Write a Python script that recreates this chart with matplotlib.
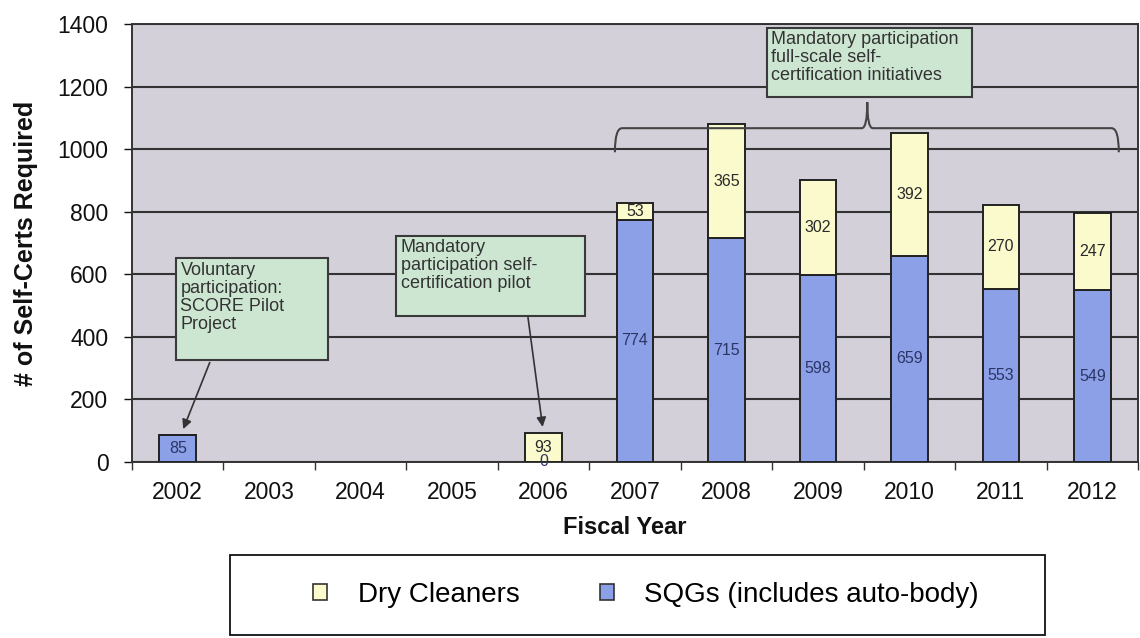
import numpy as np
import matplotlib
matplotlib.use("Agg")
import matplotlib.pyplot as plt
from matplotlib.patches import Rectangle, Patch, PathPatch
from matplotlib.path import Path

plt.rcParams['font.family'] = ['Liberation Sans', 'DejaVu Sans']

# ---------------------------------------------------------------------------
# Data
# ---------------------------------------------------------------------------
years = ['2002', '2003', '2004', '2005', '2006', '2007', '2008',
         '2009', '2010', '2011', '2012']
sqgs = [85, 0, 0, 0, 0, 774, 715, 598, 659, 553, 549]
dry_cleaners = [0, 0, 0, 0, 93, 53, 365, 302, 392, 270, 247]

series_names = ['Dry Cleaners', 'SQGs (includes auto-body)']
y_ticks = [0, 200, 400, 600, 800, 1000, 1200, 1400]

note_voluntary = 'Voluntary\nparticipation:\nSCORE Pilot\nProject'
note_pilot = 'Mandatory\nparticipation self-\ncertification pilot'
note_fullscale = 'Mandatory participation\nfull-scale self-\ncertification initiatives'

# colours
BLUE = '#8ca0e8'
YELLOW = '#fafacd'
PLOT_BG = '#d4d0da'
NOTE_BG = '#cde6d2'
GRID = '#333333'

W, H = 1140, 638
fig = plt.figure(figsize=(W / 100, H / 100), dpi=100)
fig.patch.set_facecolor('white')

# axes box in pixels: x 132..1138, y 24..462
ax = fig.add_axes([132 / W, 1 - 462 / H, (1138 - 132) / W, (462 - 24) / H])
ax.set_facecolor(PLOT_BG)

x = np.arange(len(years))
sqgs = np.array(sqgs)
dry_cleaners = np.array(dry_cleaners)
has_data = (sqgs + dry_cleaners) > 0
bw = 0.40

for i in x[has_data]:
    b1 = ax.bar(i, sqgs[i], bw, color=BLUE, edgecolor='#222222', lw=1.4, zorder=3)
    b2 = ax.bar(i, dry_cleaners[i], bw, bottom=sqgs[i], color=YELLOW,
                edgecolor='#222222', lw=1.4, zorder=3)
    # bottom segment always labelled when year has data, top only when > 0
    ax.bar_label(b1, labels=[str(sqgs[i])], label_type='center',
                 fontsize=11.5, color='#2b3566', zorder=4)
    if dry_cleaners[i] > 0:
        ax.bar_label(b2, labels=[str(dry_cleaners[i])], label_type='center',
                     fontsize=11.5, color='#2a2a2a', zorder=4)

ax.set_xlim(-0.5, len(years) - 0.5)
ax.set_ylim(0, 1400)
ax.set_yticks(y_ticks)
ax.set_yticklabels([str(v) for v in y_ticks])
ax.yaxis.grid(True, color=GRID, lw=1.5, zorder=1)
ax.set_axisbelow(True)

ax.set_xticks(x)
ax.set_xticklabels(years)
ax.set_xticks(np.arange(len(years) + 1) - 0.5, minor=True)
ax.tick_params(axis='x', which='major', length=0, pad=14, labelsize=16.5,
               colors='#111111')
ax.tick_params(axis='x', which='minor', length=6, width=1, color='#333333',
               direction='out')
ax.tick_params(axis='y', length=6, width=1, pad=11, labelsize=16.5,
               colors='#111111', direction='out')

for side in ['left', 'bottom', 'top', 'right']:
    ax.spines[side].set_color('#333333')
    ax.spines[side].set_linewidth(1.4)

# ---------------------------------------------------------------------------
# Annotation boxes
# ---------------------------------------------------------------------------
def note_box(x0, x1, y0, y1, text, tx, ty):
    ax.add_patch(Rectangle((x0, y0), x1 - x0, y1 - y0, facecolor=NOTE_BG,
                           edgecolor='#3a3a3a', lw=1.5, zorder=5, clip_on=False))
    ax.text(tx, ty, text, ha='left', va='top', fontsize=13, color='#333333',
            linespacing=1.08, zorder=6, clip_on=False)


note_box(-0.02, 1.64, 326, 652, note_voluntary, 0.03, 640)
note_box(2.39, 4.45, 467, 722, note_pilot, 2.44, 712)
note_box(6.44, 8.69, 1166, 1387, note_fullscale, 6.49, 1377)

arrow = dict(arrowstyle='-|>', color='#333333', lw=1.2, mutation_scale=14,
             shrinkA=0, shrinkB=0)
ax.annotate('', xy=(0.06, 105), xytext=(0.35, 318), arrowprops=arrow, zorder=6)
ax.annotate('', xy=(3.99, 112), xytext=(3.83, 462), arrowprops=arrow, zorder=6)

# brace over 2007-2012
bl, br, tip = 4.78, 10.29, 7.54
yh, yend, ytip = 1067, 990, 1150
verts = [(bl, yend), (bl, yh), (bl + 0.08, yh),
         (tip - 0.06, yh), (tip, yh), (tip, ytip),
         (tip, yh), (tip + 0.06, yh),
         (br - 0.08, yh), (br, yh), (br, yend)]
codes = [Path.MOVETO, Path.CURVE3, Path.CURVE3,
         Path.LINETO, Path.CURVE3, Path.CURVE3,
         Path.CURVE3, Path.CURVE3,
         Path.LINETO, Path.CURVE3, Path.CURVE3]
ax.add_patch(PathPatch(Path(verts, codes), facecolor='none',
                       edgecolor='#444444', lw=1.5, zorder=4))

# ---------------------------------------------------------------------------
# Axis titles and legend
# ---------------------------------------------------------------------------
fig.text(26 / W, 1 - 243 / H, '# of Self-Certs Required', rotation=90,
         ha='center', va='center', fontsize=18, fontweight='bold', color='#111111')
fig.text(625 / W, 1 - 527 / H, 'Fiscal Year', ha='center', va='center',
         fontsize=17, fontweight='bold', color='#111111')

fig.patches.append(Rectangle((230 / W, 1 - 635 / H), (1045 - 230) / W, 80 / H,
                             transform=fig.transFigure, facecolor='white',
                             edgecolor='#111111', lw=1.3))
handles = [Patch(facecolor=YELLOW, edgecolor='#333333', lw=1.2),
           Patch(facecolor=BLUE, edgecolor='#333333', lw=1.2)]
fig.legend(handles, series_names, loc='center', ncol=2, frameon=False,
           bbox_to_anchor=(646 / W, 1 - 595 / H), fontsize=20,
           handlelength=0.5, handleheight=0.5, handletextpad=1.1,
           columnspacing=2.9)

fig.savefig('out.png', dpi=100, facecolor='white')
